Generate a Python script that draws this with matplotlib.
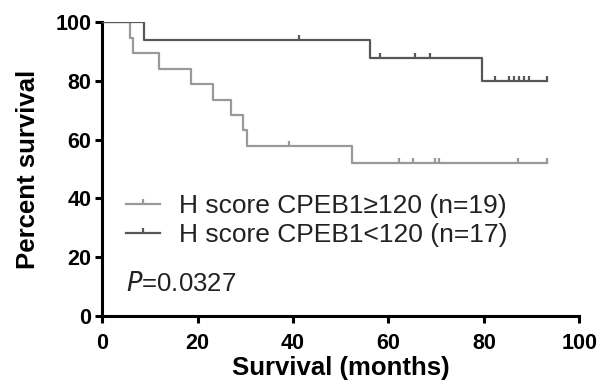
import numpy as np
import matplotlib
matplotlib.use("Agg")
import matplotlib.pyplot as plt
from matplotlib.path import Path

plt.rcParams['font.family'] = ['Liberation Sans', 'DejaVu Sans']

# ---- data (months) ----
high_label = "H score CPEB1\u2265120 (n=19)"
high_deaths = [5.8, 6.5, 11.9, 18.5, 23.3, 26.9, 29.6, 30.3, 52.3]
high_censored = [39.1, 62.1, 65.2, 69.7, 70.6, 87.2, 93.2, 93.2, 93.2, 93.2]

low_label = "H score CPEB1<120 (n=17)"
low_deaths = [8.8, 56.2, 79.7]
low_censored = [41.2, 58.3, 65.6, 68.8, 82.3, 85.3, 86.4, 87.4, 88.5, 89.5,
                93.2, 93.2, 93.2, 93.2]

p_text = "=0.0327"
x_ticks = [0, 20, 40, 60, 80, 100]
y_ticks = [0, 20, 40, 60, 80, 100]

high_color = '#999999'
low_color = '#575757'


def km(deaths, censored):
    times = sorted(set(deaths + censored))
    n = len(deaths) + len(censored)
    s = 1.0
    xs, ys = [0.0], [100.0]
    cx, cy = [], []
    at_risk = n
    for t in times:
        d = deaths.count(t)
        c = censored.count(t)
        if d:
            s *= (at_risk - d) / at_risk
        xs.append(t)
        ys.append(s * 100)
        if c:
            cx.append(t)
            cy.append(s * 100)
        at_risk -= d + c
    return xs, ys, cx, cy


tick_marker = Path([[0, 0], [0, 1]])

fig = plt.figure(figsize=(6.11, 3.87), dpi=100)
ax = fig.add_axes([0.1674, 0.1835, 0.7807, 0.759])

for deaths, cens, col, lab in [(high_deaths, high_censored, high_color, high_label),
                               (low_deaths, low_censored, low_color, low_label)]:
    xs, ys, cx, cy = km(deaths, cens)
    ax.step(xs, ys, where='post', color=col, lw=1.6, zorder=3)
    ax.plot(cx, cy, linestyle='none', marker=tick_marker, markersize=6.5,
            markeredgewidth=1.6, color=col, zorder=3)
    ax.plot([], [], color=col, lw=1.6, marker=tick_marker, markersize=6.5,
            markeredgewidth=1.6, label=lab)

ax.set_xlim(0, 100)
ax.set_ylim(0, 100)
ax.set_xticks(x_ticks)
ax.set_yticks(y_ticks)
for s in ['top', 'right']:
    ax.spines[s].set_visible(False)
for s in ['left', 'bottom']:
    ax.spines[s].set_linewidth(2.2)
    ax.spines[s].set_capstyle('projecting')
ax.tick_params(width=2.2, length=5, labelsize=15.5)
ax.tick_params(axis='x', pad=7)
ax.tick_params(axis='y', pad=3)
for lbl in ax.get_xticklabels() + ax.get_yticklabels():
    lbl.set_fontweight('bold')

ax.set_xlabel("Survival (months)", fontsize=18.5, fontweight='bold', labelpad=2)
ax.set_ylabel("Percent survival", fontsize=18.5, fontweight='bold', labelpad=11)

leg = ax.legend(loc='upper left', bbox_to_anchor=(0.05, 0.416), frameon=False,
                fontsize=19, handlelength=1.3, handletextpad=0.72,
                labelspacing=0.2, numpoints=1, borderaxespad=0, borderpad=0)
for t in leg.get_texts():
    t.set_color('#222222')

ax.text(5.0, 11.0, "$\\mathit{P}$" + p_text, fontsize=18.5, color='#222222',
        va='center', ha='left')

fig.savefig("out.png", dpi=100)
